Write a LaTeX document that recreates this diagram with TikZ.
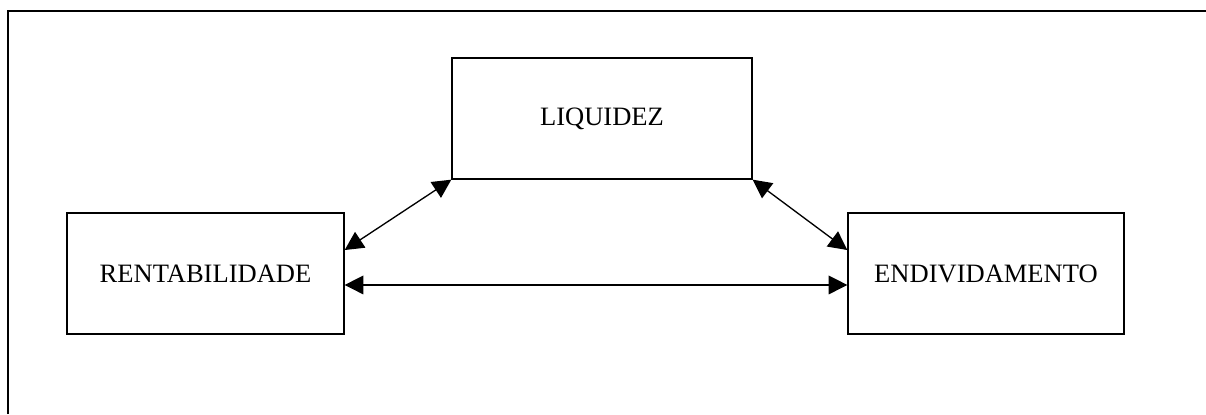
\documentclass[tikz,border=0pt]{standalone}
\usepackage{fontspec}
\setmainfont{Liberation Serif}
\usepackage{tikz}
\usetikzlibrary{positioning,calc,arrows.meta}

\tikzset{
    indbox/.style={draw, line width=1pt, rectangle, minimum height=90.75pt,
        inner sep=0pt, font=\fontsize{19.9}{24}\selectfont},
    dbl/.style={{Triangle[length=14pt,width=14pt]}-{Triangle[length=14pt,width=14pt]}, line width=1pt}
}

\begin{document}
\begin{tikzpicture}[x=0.75pt, y=-0.75pt]
    \useasboundingbox (0,0) rectangle (1206,414);
    % 外框 (只有左边和上边)
    \draw[line width=1.5pt] (8,414) -- (8,11) -- (1206,11);
    % 三个指标框
    \node[indbox, minimum width=225pt] (liquidez) at (602,118.5) {LIQUIDEZ};
    \node[indbox, minimum width=207.75pt] (rentab) at (205.5,273.5) {RENTABILIDADE};
    \node[indbox, minimum width=207pt] (endiv) at (986,273.5) {ENDIVIDAMENTO};
    % 双向箭头
    \draw[dbl] (liquidez.south west) -- ([yshift=17.6pt]rentab.east);
    \draw[dbl] (liquidez.south east) -- ([yshift=17.6pt]endiv.west);
    \draw[dbl] ([yshift=-8.6pt]rentab.east) -- ([yshift=-8.6pt]endiv.west);
\end{tikzpicture}
\end{document}
